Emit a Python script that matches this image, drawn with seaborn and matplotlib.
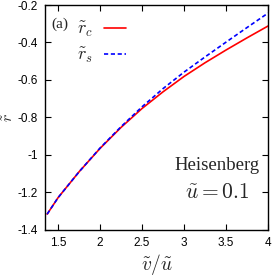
import numpy as np
import pandas as pd
import seaborn as sns
import matplotlib.pyplot as plt

# values
v_over_u = [1.37, 1.5, 1.75, 2.0, 2.25, 2.5, 2.75, 3.0, 3.25, 3.5, 3.75, 4.0]
r_c = [-1.316, -1.228, -1.09, -0.965, -0.853, -0.752, -0.663, -0.581, -0.508, -0.44, -0.375, -0.312]
r_s = [-1.316, -1.228, -1.09, -0.963, -0.849, -0.743, -0.646, -0.558, -0.477, -0.398, -0.32, -0.243]
x_ticks = [1.5, 2, 2.5, 3, 3.5, 4]
y_ticks = [-1.4, -1.2, -1, -0.8, -0.6, -0.4, -0.2]

df = pd.DataFrame({
    "x": v_over_u * 2,
    "r": r_c + r_s,
    "kind": [r"$\tilde{r}_c$"] * len(v_over_u) + [r"$\tilde{r}_s$"] * len(v_over_u),
})

sns.set_theme(style="ticks")
plt.rcParams["font.family"] = ["Liberation Sans", "DejaVu Sans"]
plt.rcParams["mathtext.fontset"] = "cm"

fig = plt.figure(figsize=(2.73, 2.78), dpi=100)
ax = fig.add_axes([0.165, 0.173, 0.817, 0.809])

sns.lineplot(data=df, x="x", y="r", hue="kind", style="kind",
             palette=["red", "blue"], dashes=[(None, None), (2.5, 1.6)],
             linewidth=1.2, ax=ax)

ax.set_xlim(1.345, 4)
ax.set_ylim(-1.4, -0.2)
ax.set_xticks(x_ticks)
ax.set_xticklabels(["1.5", "2", "2.5", "3", "3.5", "4"])
ax.set_yticks(y_ticks)
ax.set_yticklabels(["-1.4", "-1.2", "-1", "-0.8", "-0.6", "-0.4", "-0.2"])
ax.tick_params(direction="in", top=True, right=True, length=4, width=0.8,
               labelsize=8.5, pad=5, colors="black")
for s in ax.spines.values():
    s.set_linewidth(1.0)
    s.set_color("black")

ax.set_xlabel(r"$\tilde{v}/\tilde{u}$", fontsize=14, labelpad=2)
ax.set_ylabel(r"$\tilde{r}$", fontsize=11.5)
ax.yaxis.set_label_coords(-0.13, 0.5)

leg = ax.legend(loc="upper left", bbox_to_anchor=(0.07, 1.005), frameon=False,
                markerfirst=False, handlelength=1.2, fontsize=13,
                labelspacing=0.35, handletextpad=0.6)
ax.text(0.03, 0.915, "(a)", transform=ax.transAxes, fontsize=11,
        family="Liberation Serif", va="center", ha="left")

ax.text(0.77, 0.287, "Heisenberg", transform=ax.transAxes, fontsize=13.5,
        family="Liberation Serif", ha="center", va="center")
ax.text(0.77, 0.167, r"$\tilde{u}=0.1$", transform=ax.transAxes, fontsize=15.5,
        ha="center", va="center")

fig.savefig("out.png", dpi=100)
